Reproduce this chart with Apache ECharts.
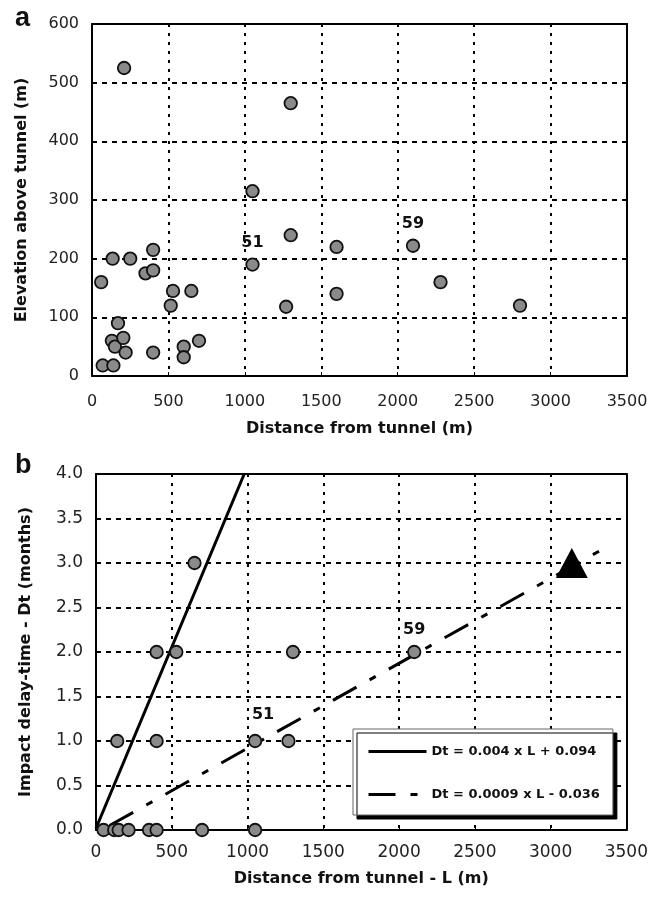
<!DOCTYPE html>
<html>
<head>
<meta charset="utf-8">
<script src="https://cdn.jsdelivr.net/npm/echarts@6/dist/echarts.min.js"></script>
<style>
  html, body { margin: 0; background: #fff; }
  #chart { width: 651px; height: 900px; }
</style>
</head>
<body>
<div id="chart"></div>
<script>
// panel a: distance vs elevation
const topDist = [60, 70, 130, 135, 140, 150, 170, 205, 210, 220, 250, 350, 400, 400, 400, 515, 530, 600, 600, 650, 700, 1050, 1050, 1270, 1300, 1300, 1600, 1600, 2100, 2280, 2800];
const topElev = [160, 18, 60, 200, 18, 50, 90, 65, 525, 40, 200, 175, 215, 180, 40, 120, 145, 50, 32, 145, 60, 190, 315, 118, 240, 465, 220, 140, 222, 160, 120];
const topTags = { 21: '51', 28: '59' };

// panel b: distance vs delay time
const botDist = [50, 120, 150, 215, 350, 400, 700, 1050, 140, 400, 1050, 1270, 400, 530, 1300, 2100, 650];
const botDelay = [0, 0, 0, 0, 0, 0, 0, 0, 1, 1, 1, 1, 2, 2, 2, 2, 3];
const botTags = { 10: '51', 15: '59' };
const triangle = [[3140, 3.0]];

const fitNames = ['Dt = 0.004 x L + 0.094', 'Dt = 0.0009 x L - 0.036'];
const solidFit = [[0, 0.02], [978, 4.0]];
const dashFit = [[90, 0.05], [3380, 3.19]];

const xTicks = { min: 0, max: 3500, interval: 500 };

const FONT = 'DejaVu Sans';
const chart = echarts.init(document.getElementById('chart'));

function xAxis(grid, name, size, margin, gap) {
  return {
    gridIndex: grid, type: 'value', min: xTicks.min, max: xTicks.max, interval: xTicks.interval,
    name: name, nameLocation: 'middle', nameGap: gap, nameMoveOverlap: false,
    nameTextStyle: { fontFamily: FONT, fontWeight: 'bold', fontSize: 16, color: '#111' },
    axisLine: { show: true, lineStyle: { color: '#000', width: 2 } },
    axisTick: { show: true, inside: true, length: 4, lineStyle: { color: '#000' } },
    axisLabel: { fontFamily: FONT, fontSize: size, color: '#222', margin: margin, formatter: v => String(v) },
    splitLine: { show: true, lineStyle: { color: '#000', width: 2, type: [3, 6] } }
  };
}

function yAxis(grid, name, min, max, interval, size, fmt) {
  return {
    gridIndex: grid, type: 'value', min: min, max: max, interval: interval,
    name: name, nameLocation: 'middle', nameGap: 62,
    nameTextStyle: { fontFamily: FONT, fontWeight: 'bold', fontSize: 16, color: '#111' },
    axisLine: { show: true, lineStyle: { color: '#000', width: 2 } },
    axisTick: { show: false },
    axisLabel: { fontFamily: FONT, fontSize: size, color: '#222', margin: 13, formatter: fmt || (v => String(v)) },
    splitLine: { show: true, lineStyle: { color: '#000', width: 2, type: [5, 5] } }
  };
}

// plain axes on the top and right that just close the frame
function frameX(grid, min, max) {
  return {
    gridIndex: grid, type: 'value', position: 'top', min: min, max: max,
    axisLine: { show: true, onZero: false, lineStyle: { color: '#000', width: 2 } },
    axisTick: { show: false }, axisLabel: { show: false }, splitLine: { show: false }
  };
}
function frameY(grid, min, max) {
  return {
    gridIndex: grid, type: 'value', position: 'right', min: min, max: max,
    axisLine: { show: true, onZero: false, lineStyle: { color: '#000', width: 2 } },
    axisTick: { show: false }, axisLabel: { show: false }, splitLine: { show: false }
  };
}

const dot = {
  color: '#8a8a8a', borderColor: '#111', borderWidth: 1.8, opacity: 1
};
const tagLabel = {
  show: true, position: 'top', distance: 7,
  fontFamily: FONT, fontWeight: 'bold', fontSize: 16, color: '#111'
};

function points(xs, ys, tags, offsets) {
  return xs.map((x, i) => {
    const item = { value: [x, ys[i]] };
    if (tags[i]) {
      item.label = Object.assign({}, tagLabel, { formatter: tags[i], offset: offsets[i] || [0, 0] });
    }
    return item;
  });
}

const option = {
  backgroundColor: '#fff',
  animation: false,
  title: [
    { text: 'a', left: 10, top: 0, textStyle: { fontFamily: 'Liberation Sans', fontWeight: 'bold', fontSize: 27, color: '#111' } },
    { text: 'b', left: 10, top: 447, textStyle: { fontFamily: 'Liberation Sans', fontWeight: 'bold', fontSize: 27, color: '#111' } }
  ],
  grid: [
    { left: 92, top: 24, width: 535, height: 352 },
    { left: 96, top: 474, width: 533, height: 356 }
  ],
  xAxis: [
    xAxis(0, 'Distance from tunnel (m)', 16, 18, 45),
    xAxis(1, 'Distance from tunnel - L (m)', 17, 14, 41),
    frameX(0, 0, 3500),
    frameX(1, 0, 3500)
  ],
  yAxis: [
    yAxis(0, 'Elevation above tunnel (m)', 0, 600, 100, 16),
    yAxis(1, 'Impact delay-time - Dt (months)', 0, 4, 0.5, 17, v => v.toFixed(1)),
    frameY(0, 0, 600),
    frameY(1, 0, 4)
  ],
  legend: {
    data: fitNames,
    orient: 'vertical',
    left: 353, top: 729,
    padding: [16, 13, 14, 14],
    itemWidth: 58, itemHeight: 14, itemGap: 30,
    backgroundColor: '#fff',
    borderColor: '#666', borderWidth: 1,
    shadowColor: '#000', shadowBlur: 0, shadowOffsetX: 4, shadowOffsetY: 4,
    itemStyle: { opacity: 0, borderWidth: 0 },
    lineStyle: { width: 3, opacity: 1 },
    textStyle: { fontFamily: FONT, fontWeight: 'bold', fontSize: 13, color: '#111' }
  },
  series: [
    {
      type: 'scatter', xAxisIndex: 0, yAxisIndex: 0, z: 3,
      symbol: 'circle', symbolSize: 12.5,
      itemStyle: dot,
      data: points(topDist, topElev, topTags, {})
    },
    {
      name: fitNames[0], type: 'line', xAxisIndex: 1, yAxisIndex: 1, z: 2,
      symbol: 'none', data: solidFit,
      lineStyle: { color: '#000', width: 3 },
      itemStyle: { color: '#000' }
    },
    {
      name: fitNames[1], type: 'line', xAxisIndex: 1, yAxisIndex: 1, z: 2,
      symbol: 'none', data: dashFit,
      lineStyle: { color: '#000', width: 3, type: [27, 15, 7, 15] },
      itemStyle: { color: '#000' }
    },
    {
      type: 'scatter', xAxisIndex: 1, yAxisIndex: 1, z: 3,
      symbol: 'circle', symbolSize: 12.5,
      itemStyle: dot,
      data: points(botDist, botDelay, botTags, { 10: [8, -4] })
    },
    {
      type: 'scatter', xAxisIndex: 1, yAxisIndex: 1, z: 4,
      symbol: 'triangle', symbolSize: [32, 30],
      itemStyle: { color: '#000', opacity: 1 },
      data: triangle
    }
  ]
};

chart.setOption(option);
</script>
</body>
</html>
